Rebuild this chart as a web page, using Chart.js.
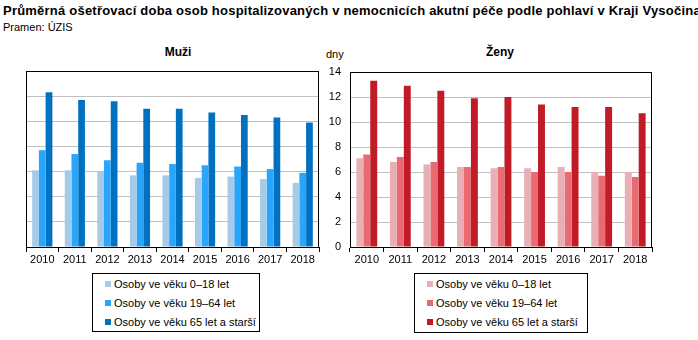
<!DOCTYPE html>
<html lang="cs">
<head>
<meta charset="UTF-8">
<title>Průměrná ošetřovací doba</title>
<script src="https://cdn.jsdelivr.net/npm/chart.js"></script>
<style>
  body { margin: 0; background: #fff; font-family: Arial, "Liberation Sans", sans-serif; color: #000; }
  #wrap { position: relative; width: 698px; height: 340px; overflow: hidden; }
  .abs { position: absolute; white-space: nowrap; }
  #nadpis { left: 3px; top: 3px; font-size: 13px; font-weight: bold; letter-spacing: 0.22px; }
  #zdroj { left: 3px; top: 21px; font-size: 11px; }
  .panel { font-size: 12px; font-weight: bold; transform: translateX(-50%); }
  #dny { left: 326px; top: 48px; font-size: 11px; }
  .legenda { position: absolute; border: 1px solid #000; font-size: 11px; box-sizing: border-box; }
  .legenda div { position: absolute; left: 12px; line-height: 13px; }
  .legenda span { display: inline-block; width: 6px; height: 6px; margin-right: 3px; vertical-align: 1px; }
</style>
</head>
<body>
<div id="wrap">
  <div id="nadpis" class="abs">Průměrná ošetřovací doba osob hospitalizovaných v nemocnicích akutní péče podle pohlaví v Kraji Vysočina</div>
  <div id="zdroj" class="abs">Pramen: ÚZIS</div>
  <div class="abs panel" style="left:178px; top:45px;">Muži</div>
  <div class="abs panel" style="left:500px; top:45px;">Ženy</div>
  <div id="dny" class="abs">dny</div>
  <div class="abs" style="left:0; top:40px;"><canvas id="muzi" width="330" height="230"></canvas></div>
  <div class="abs" style="left:300px; top:40px;"><canvas id="zeny" width="398" height="230"></canvas></div>
  <div id="legM" class="legenda" style="left:92px; top:273px; width:168px; height:59px;"></div>
  <div id="legZ" class="legenda" style="left:414px; top:273px; width:174px; height:60px;"></div>
</div>
<script>
var roky = ['2010', '2011', '2012', '2013', '2014', '2015', '2016', '2017', '2018'];
var skupiny = ['Osoby ve věku 0–18 let', 'Osoby ve věku 19–64 let', 'Osoby ve věku 65 let a starší'];

// muži
var muzi0_18  = [6.1, 6.1, 6.0, 5.7, 5.7, 5.5, 5.6, 5.4, 5.1];
var muzi19_64 = [7.7, 7.4, 6.9, 6.7, 6.6, 6.5, 6.4, 6.2, 5.9];
var muzi65    = [12.3, 11.7, 11.6, 11.0, 11.0, 10.7, 10.5, 10.3, 9.9];
// ženy
var zeny0_18  = [7.1, 6.8, 6.6, 6.4, 6.3, 6.3, 6.4, 6.0, 6.0];
var zeny19_64 = [7.4, 7.2, 6.8, 6.4, 6.4, 6.0, 6.0, 5.7, 5.6];
var zeny65    = [13.3, 12.9, 12.5, 11.9, 12.0, 11.4, 11.2, 11.2, 10.7];

var yTicks = [0, 2, 4, 6, 8, 10, 12, 14];

var barvyM = ['#a6cbe8', '#29a6fb', '#0070c0'];
var barvyZ = ['#e8afb4', '#e96a71', '#c01b27'];

// ramecek kolem plochy grafu
var ramecek = {
    id: 'ramecek',
    afterDatasetsDraw: function(chart) {
        var a = chart.chartArea, c = chart.ctx;
        c.save();
        c.strokeStyle = '#000';
        c.lineWidth = 1;
        c.strokeRect(Math.round(a.left) + 0.5, Math.round(a.top) + 0.5,
                     Math.round(a.right - a.left) - 1, Math.round(a.bottom - a.top));
        c.restore();
    }
};

function sady(hodnoty, barvy) {
    return hodnoty.map(function(d, i) {
        return {
            label: skupiny[i],
            data: d,
            backgroundColor: barvy[i],
            borderWidth: 0,
            categoryPercentage: 0.62,
            barPercentage: 1.0
        };
    });
}

function graf(id, hodnoty, barvy, popisky, pad) {
    return new Chart(document.getElementById(id), {
        type: 'bar',
        data: { labels: roky, datasets: sady(hodnoty, barvy) },
        options: {
            responsive: false,
            animation: false,
            devicePixelRatio: 1,
            layout: { padding: pad },
            plugins: { legend: { display: false }, title: { display: false }, tooltip: { enabled: false } },
            scales: {
                x: {
                    grid: { display: true, drawOnChartArea: false, drawTicks: true, tickLength: 5, color: '#000' },
                    border: { display: true, color: '#000' },
                    ticks: { color: '#000', font: { family: 'Arial', size: 11 }, padding: 1, maxRotation: 0 },
                    afterFit: function(s) { s.height = 23; }
                },
                y: {
                    position: popisky ? 'left' : 'right',
                    min: 0, max: 14,
                    afterBuildTicks: function(s) { s.ticks = yTicks.map(function(v) { return { value: v }; }); },
                    grid: { color: '#c0c0c0', drawTicks: false },
                    border: { display: false },
                    ticks: { display: popisky, color: '#000', font: { family: 'Arial', size: 11 }, padding: 9 },
                    afterFit: function(s) { s.width = popisky ? 50 : 11; }
                }
            }
        },
        plugins: [ramecek]
    });
}

graf('muzi', [muzi0_18, muzi19_64, muzi65], barvyM, false, { left: 26, top: 31, right: 0, bottom: 0 });
graf('zeny', [zeny0_18, zeny19_64, zeny65], barvyZ, true, { left: 0, top: 32, right: 46, bottom: 0 });

function legenda(id, barvy) {
    var el = document.getElementById(id);
    skupiny.forEach(function(t, i) {
        var r = document.createElement('div');
        r.style.top = (4 + i * 19) + 'px';
        r.innerHTML = '<span style="background:' + barvy[i] + '"></span>' + t;
        el.appendChild(r);
    });
}
legenda('legM', barvyM);
legenda('legZ', barvyZ);
</script>
</body>
</html>
